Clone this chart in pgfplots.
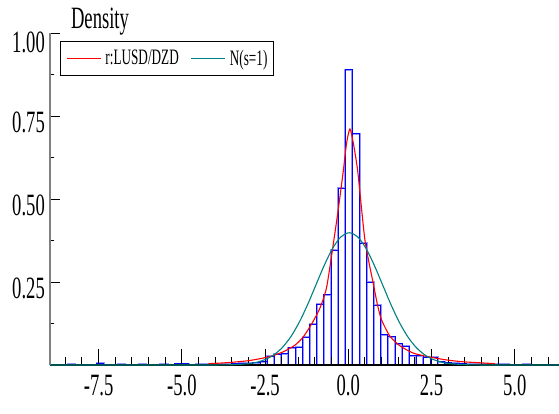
\documentclass[border=0pt]{standalone}
\usepackage{fontspec}
\setmainfont[FakeStretch=0.6]{Liberation Serif}
\usepackage{pgfplots}
\usepackage{pgfplotstable}
\pgfplotsset{compat=1.18}
\definecolor{oxteal}{RGB}{0,128,128}
\definecolor{oxred}{RGB}{255,0,0}
\definecolor{oxblue}{RGB}{0,0,255}
\definecolor{oxlightblue}{RGB}{150,150,255}

\pgfplotstableread{
x y
-8.417 0.003
-8.203 0
-7.990 0
-7.776 0
-7.563 0.006
-7.349 0
-7.136 0
-6.922 0.003
-6.709 0
-6.495 0
-6.282 0.003
-6.068 0
-5.855 0
-5.641 0.003
-5.428 0
-5.214 0.004
-5.001 0.004
-4.787 0
-4.574 0.002
-4.360 0.003
-4.147 0.002
-3.933 0.003
-3.720 0.003
-3.506 0.004
-3.293 0.005
-3.079 0.006
-2.866 0.007
-2.652 0.010
-2.439 0.027
-2.225 0.032
-2.012 0.034
-1.798 0.052
-1.585 0.054
-1.371 0.084
-1.158 0.123
-0.944 0.183
-0.731 0.212
-0.517 0.347
-0.304 0.534
-0.090 0.891
0.124 0.698
0.337 0.367
0.551 0.250
0.764 0.181
0.978 0.091
1.191 0.085
1.405 0.064
1.618 0.057
1.832 0.028
2.045 0.028
2.259 0.024
2.472 0.024
2.686 0.010
2.899 0.007
3.113 0.005
3.326 0.004
3.540 0.003
3.753 0.002
3.967 0.002
4.180 0
4.394 0.003
4.607 0.003
4.821 0
5.034 0
5.248 0.003
5.462 0
}\histdata

\pgfplotstableread{
x y
-4.2 0.004
-3.8 0.006
-3.4 0.009
-3.0 0.013
-2.6 0.020
-2.3 0.027
-1.95 0.040
-1.6 0.060
-1.35 0.085
-1.1 0.124
-0.85 0.172
-0.65 0.235
-0.45 0.365
-0.3 0.47
-0.15 0.585
-0.05 0.67
0.05 0.712
0.15 0.67
0.28 0.588
0.4 0.47
0.5 0.377
0.62 0.31
0.75 0.246
0.88 0.18
1.0 0.136
1.25 0.087
1.55 0.058
1.95 0.036
2.4 0.025
2.9 0.016
3.4 0.010
3.9 0.007
4.4 0.004
}\reddata

\pgfplotstableread{
x y
-8.96 0
-4.97 0.0000
-3.97 0.0001
-3.47 0.0009
-2.97 0.0044
-2.72 0.0091
-2.47 0.0175
-2.22 0.0317
-1.97 0.0540
-1.72 0.0863
-1.47 0.1295
-1.22 0.1826
-0.97 0.2420
-0.72 0.3011
-0.47 0.3521
-0.22 0.3867
0.03 0.3989
0.28 0.3867
0.53 0.3521
0.78 0.3011
1.03 0.2420
1.28 0.1826
1.53 0.1295
1.78 0.0863
2.03 0.0540
2.28 0.0317
2.53 0.0175
2.78 0.0091
3.03 0.0044
3.53 0.0009
4.03 0.0001
5.03 0
6.33 0
}\normdata

\begin{document}
\begin{tikzpicture}
\begin{axis}[
  at={(0pt,0pt)}, anchor=south west,
  scale only axis, width=509pt, height=331.5pt,
  xmin=-8.96, xmax=6.33, ymin=0, ymax=1,
  set layers, axis on top,
  axis x line=bottom, axis y line=left,
  axis line style={-},
  x axis line style={-, black, line width=1.5pt},
  y axis line style={-, gray, line width=1.3pt},
  tick align=inside,
  xtick={-7.5,-5,-2.5,0,2.5,5},
  xticklabels={-7.5,-5.0,-2.5,0.0,2.5,5.0},
  minor xtick={-8.5,-8,...,6},
  ytick={0,0.25,0.5,0.75,1},
  yticklabels={,0.25,0.50,0.75,\raisebox{-2.5pt}[\height][\depth]{1.00}},
  minor ytick={0.125,0.375,0.625,0.875},
  xtick style={/pgfplots/major tick length=16pt, /pgfplots/minor tick length=8pt, black, line width=1pt},
  ytick style={/pgfplots/major tick length=10pt, /pgfplots/minor tick length=4pt, black, line width=1pt},
  tick label style={font=\fontsize{31}{31}\selectfont, inner sep=0pt},
  yticklabel style={anchor=east, xshift=-5pt, yshift=-6.5pt},
  xticklabel style={anchor=north, yshift=-10pt},
  legend columns=-1,
  legend image code/.code={\draw[#1] (0pt,0pt) -- (34pt,0pt);},
  legend style={at={(rel axis cs:0.0196,0.977)}, anchor=north west,
    draw=black, line width=0.8pt, fill=white,
    font=\fontsize{22}{22}\selectfont,
    inner xsep=6pt, inner ysep=8.5pt,
    nodes={inner sep=0pt},
    /tikz/every odd column/.append style={column sep=4pt},
    /tikz/every even column/.append style={column sep=12pt}},
]
\addplot[ybar interval, draw=oxlightblue, fill=none, line width=2pt, forget plot] table {\histdata};
\addplot[ybar interval, draw=oxblue, fill=none, line width=0.9pt, forget plot] table {\histdata};
\addplot[oxred, line width=1.1pt, smooth, tension=0.4, on layer=axis foreground] table {\reddata};
\addlegendentry{r:LUSD/DZD}
\addplot[oxteal, line width=1.1pt, smooth, on layer=axis foreground] table {\normdata};
\addlegendentry{N(s=1)}
\end{axis}
\node[anchor=base, font=\fontsize{31}{31}\selectfont] at (50pt,336pt) {Density};
\pgfresetboundingbox
\path[use as bounding box] (-50pt,-49pt) rectangle (509pt,365pt);
\end{tikzpicture}
\end{document}
